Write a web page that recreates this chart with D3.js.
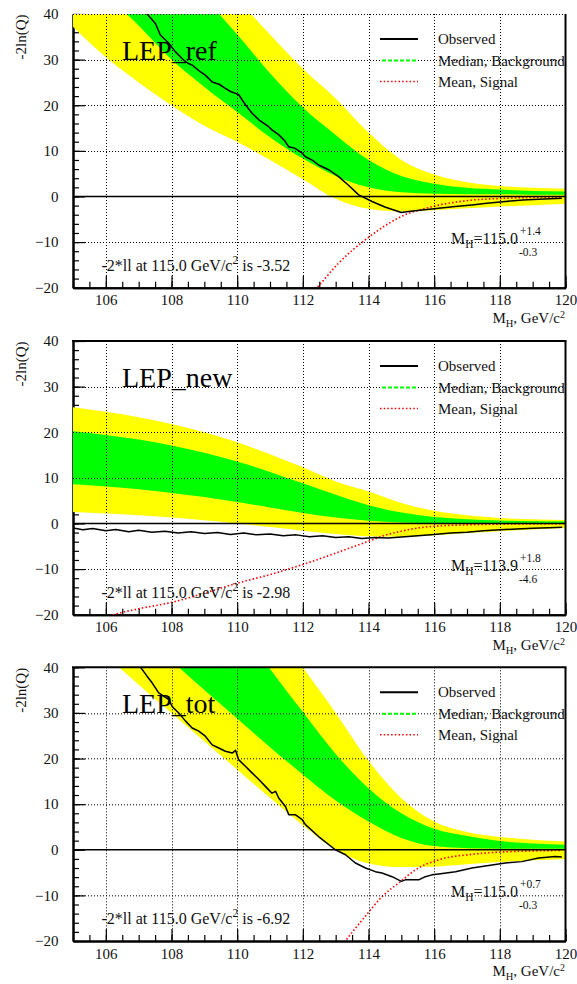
<!DOCTYPE html>
<html><head><meta charset="utf-8">
<script src="https://cdn.jsdelivr.net/npm/d3@7"></script>
<style>
body{margin:0;background:#fff;}
svg{display:block;}
svg text{font-family:"Liberation Serif","Times New Roman",serif;}
</style></head><body>
<svg id="chart" width="577" height="984" font-family="Liberation Serif"></svg>
<script>
// Higgs mass points (GeV/c^2) at which the expected bands are tabulated
const massGrid = [105,106,107,108,109,110,111,112,113,114,115,116,117,118,119,120];

// LEP_ref : expected -2ln(Q) for background only (median, 1 and 2 sigma edges)
const refYellowLo = [37.2,30.5,25,20,15.5,12.0,8.0,3.8,-0.5,-2.7,-3.3,-3.0,-2.6,-2.2,-1.9,-1.6];
const refGreenLo  = [50,44,37.5,30,24,18.5,13,8.3,4.5,2.0,0.9,0.6,0.5,0.5,0.4,0.4];
const refMedian   = [60,53,46,39,32,25.5,19.5,13.5,8.5,4.6,2.4,1.6,1.2,1.0,0.8,0.75];
const refGreenHi  = [72,65,58,50.5,43.5,35.5,27,19.5,13.5,8.0,4.5,2.8,1.9,1.5,1.2,1.1];
const refYellowHi = [80,73,66,58,51,43.3,35.5,28,21.5,14,8.0,4.8,3.1,2.3,1.9,1.7];
const refObserved = [[107.1,41.5],[107.26,40.0],[107.51,37.9],[107.66,35.4],[107.92,33.6],[108.12,31.7],[108.37,29.9],[108.5,29.2],[108.63,28.8],[108.85,27.5],[109.03,26.6],[109.24,25.1],[109.45,24.6],[109.64,23.7],[109.8,23.0],[109.95,22.6],[110.05,22.3],[110.25,20.1],[110.46,18.2],[110.66,16.8],[110.96,15.3],[111.06,14.6],[111.27,13.5],[111.45,12.2],[111.57,10.9],[111.75,10.6],[111.98,9.5],[112.08,8.7],[112.3,7.9],[112.48,6.9],[112.8,5.8],[113.09,4.35],[113.4,2.4],[113.7,0.35],[114.11,-1.1],[114.5,-2.3],[115.0,-3.52],[115.22,-3.3],[115.63,-2.95],[116.14,-2.6],[116.64,-2.2],[117.15,-1.85],[117.6,-1.5],[118.17,-1.1],[118.7,-0.8],[119.18,-0.6],[119.89,-0.4]];
const refSignal = [[112.3,-21],[112.43,-20],[113.09,-14.6],[113.9,-9.5],[114.62,-5.9],[115.12,-4.0],[115.63,-2.8],[116.14,-1.9],[117.15,-0.8],[118.17,-0.4],[119.89,-0.1]];

// LEP_new
const newYellowLo = [2.5,2.2,1.8,1.3,0.7,0.0,-0.8,-1.6,-2.3,-2.8,-2.9,-2.6,-2.1,-1.7,-1.3,-1.0];
const newGreenLo  = [8.6,8.1,7.5,6.7,5.8,4.7,3.5,2.3,1.3,0.6,0.2,0.05,0.0,0.0,0.0,0.05];
const newMedian   = [14.4,13.8,13.0,11.9,10.7,9.2,7.4,5.6,3.8,2.3,1.3,0.7,0.45,0.3,0.25,0.2];
const newGreenHi  = [20.2,19.4,18.4,17.1,15.5,13.6,11.3,8.8,6.3,4.0,2.4,1.4,0.9,0.65,0.5,0.45];
const newYellowHi = [25.5,24.5,23.3,21.8,20,17.8,15.2,12.3,9.2,7.0,4.5,2.8,1.8,1.2,0.9,0.75];
const newObserved = [[105,-1.0],[105.3,-1.4],[105.6,-1.1],[106.0,-1.6],[106.3,-1.3],[106.7,-1.8],[107.0,-1.5],[107.4,-1.9],[107.8,-1.7],[108.2,-2.1],[108.6,-1.8],[109.0,-2.2],[109.4,-2.0],[109.8,-2.4],[110.2,-2.1],[110.6,-2.5],[111.0,-2.3],[111.4,-2.7],[111.8,-2.5],[112.2,-2.9],[112.6,-2.7],[113.0,-3.1],[113.4,-2.9],[113.8,-3.3],[114.2,-3.1],[114.6,-3.2],[115.0,-2.98],[115.5,-2.7],[116.0,-2.4],[116.5,-2.1],[117.0,-1.9],[117.5,-1.6],[118.0,-1.4],[118.5,-1.2],[119.0,-1.05],[119.5,-0.95],[119.9,-0.85]];
const newSignal = [[106.0,-20.5],[106.23,-20],[107,-18.7],[108,-17.3],[109,-15.3],[110,-13.1],[111,-11.2],[112,-9.0],[113,-6.5],[114,-3.9],[114.5,-2.6],[115,-1.7],[115.5,-1.0],[116,-0.6],[117,-0.3],[118,-0.15],[119,-0.1],[120,-0.05]];

// LEP_tot
const totYellowLo = [49,42.5,36.2,30.0,23.8,17.6,11.4,5.4,0.0,-3.0,-3.8,-3.7,-3.2,-2.7,-2.3,-2.0];
const totGreenLo  = [60,54,47.5,41.4,35,28.8,22.5,16.5,10.8,6.2,2.6,0.8,0.35,0.25,0.2,0.2];
const totMedian   = [72,66,60,53.5,47,39,31,23.4,16,10,5.5,2.8,1.7,1.1,0.8,0.65];
const totGreenHi  = [84,78,72,65.5,59,49.5,39.6,30.2,21,13.5,8.0,4.6,3.0,1.9,1.4,1.1];
const totYellowHi = [95,90,84,78,70,61,50.5,40,30,19.5,11.3,6.2,3.9,2.8,2.2,1.8];
const totObserved = [[107.0,41.0],[107.06,40.0],[107.26,38.0],[107.41,36.6],[107.61,34.4],[107.92,32.9],[108.02,31.4],[108.22,30.0],[108.43,28.2],[108.63,26.7],[108.83,26.0],[109.03,24.9],[109.24,23.0],[109.44,22.3],[109.64,21.6],[109.85,21.2],[109.95,21.8],[110.05,19.7],[110.25,18.3],[110.46,16.8],[110.66,15.4],[110.86,13.9],[111.06,12.4],[111.17,12.8],[111.27,11.3],[111.47,9.5],[111.57,7.7],[111.77,7.7],[111.98,6.6],[112.08,5.5],[112.48,2.9],[112.99,0.0],[113.3,-1.1],[113.6,-2.9],[113.91,-4.0],[114.21,-4.8],[114.41,-5.1],[114.72,-5.9],[115.0,-6.92],[115.12,-6.6],[115.53,-6.6],[115.73,-5.9],[115.93,-5.5],[116.14,-5.3],[116.65,-4.8],[117.15,-4.0],[117.66,-3.45],[118.17,-2.9],[118.67,-2.6],[119.18,-1.8],[119.69,-1.5],[119.89,-1.6]];
const totSignal = [[113.2,-21],[113.3,-20],[113.9,-14.6],[114.41,-10.3],[114.97,-7.0],[115.43,-4.4],[116.14,-2.2],[117.15,-1.0],[118.17,-0.45],[119.89,-0.15]];

// axis ticks
const xMajorTicks = [106,108,110,112,114,116,118,120];
const xGridTicks = [106,108,110,112,114,116,118];
const yMajorTicks = [-20,-10,0,10,20,30,40];
const yGridTicks = [-10,10,20,30];
const legendLabels = ["Observed","Median, Background","Mean, Signal"];

const panels = [
  {top:14, title:"LEP_ref", bands:[refYellowLo,refGreenLo,refMedian,refGreenHi,refYellowHi], obs:refObserved, sig:refSignal, ll:"-3.52", mh:"115.0", up:"+1.4", dn:"-0.3", solidTop:false},
  {top:341, title:"LEP_new", bands:[newYellowLo,newGreenLo,newMedian,newGreenHi,newYellowHi], obs:newObserved, sig:newSignal, ll:"-2.98", mh:"113.9", up:"+1.8", dn:"-4.6", solidTop:true},
  {top:667.3, title:"LEP_tot", bands:[totYellowLo,totGreenLo,totMedian,totGreenHi,totYellowHi], obs:totObserved, sig:totSignal, ll:"-6.92", mh:"115.0", up:"+0.7", dn:"-0.3", solidTop:true}
];

const FONT = "Liberation Serif";
const svg = d3.select("#chart");
const X0 = 73, X1 = 565.5, PH = 273.7;
const x = d3.scaleLinear().domain([105,120]).range([X0,X1]);
const y = d3.scaleLinear().domain([-20,40]).range([PH,0]);
const YELLOW = "#ffff00", GREEN = "#00ff00", RED = "#ff0000";

function label(sel, px, py, size){
  return sel.append("text").attr("x",px).attr("y",py).attr("font-family",FONT).attr("font-size",size).attr("fill","#111");
}

panels.forEach((p,i)=>{
  const g = svg.append("g").attr("transform",`translate(0,${p.top})`);
  const clipId = "plotclip"+i;
  g.append("clipPath").attr("id",clipId).append("rect")
    .attr("x",X0).attr("y",0).attr("width",X1-X0).attr("height",PH);

  // axes (drawn first, bands paint over them)
  const xAxis = g.append("g").attr("transform",`translate(0,${PH})`)
    .call(d3.axisBottom(x).tickValues(xMajorTicks).tickSize(-12).tickSizeOuter(0).tickPadding(7).tickFormat(d3.format("d")));
  const xMinor = g.append("g").attr("transform",`translate(0,${PH})`)
    .call(d3.axisBottom(x).tickValues(d3.range(105,120.01,0.5)).tickSize(-6).tickSizeOuter(0).tickFormat(""));
  const yAxis = g.append("g").attr("transform",`translate(${X0},0)`)
    .call(d3.axisLeft(y).tickValues(yMajorTicks).tickSize(-12).tickSizeOuter(0).tickPadding(14.5).tickFormat(d3.format("d")));
  const yMinor = g.append("g").attr("transform",`translate(${X0},0)`)
    .call(d3.axisLeft(y).tickValues(d3.range(-20,40.01,2)).tickSize(-6).tickSizeOuter(0).tickFormat(""));
  [xAxis,xMinor,yAxis,yMinor].forEach(a=>{
    a.attr("font-family",FONT).attr("font-size",15);
    a.select(".domain").attr("stroke","#000").attr("stroke-width",2);
    a.selectAll(".tick line").attr("stroke","#000").attr("stroke-width",1.2);
    a.selectAll("text").attr("font-family",FONT).attr("font-size",15).attr("fill","#111");
  });

  // expected bands
  const rows = massGrid.map((m,k)=>({m, y2l:p.bands[0][k], y1l:p.bands[1][k], med:p.bands[2][k], y1h:p.bands[3][k], y2h:p.bands[4][k]}));
  const plot = g.append("g").attr("clip-path",`url(#${clipId})`);
  const band = (lo,hi)=>d3.area().x(d=>x(d.m)).y0(d=>y(d[lo])).y1(d=>y(d[hi])).curve(d3.curveMonotoneX);
  plot.append("path").datum(rows).attr("d",band("y2l","y2h")).attr("fill",YELLOW);
  plot.append("path").datum(rows).attr("d",band("y1l","y1h")).attr("fill",GREEN);

  // dotted grid
  const grid = g.append("g").attr("stroke","#000").attr("stroke-width",1).attr("stroke-dasharray","1,2");
  xGridTicks.forEach(t=>grid.append("line").attr("x1",Math.round(x(t))+0.5).attr("x2",Math.round(x(t))+0.5).attr("y1",0).attr("y2",PH));
  const hLines = p.solidTop ? yGridTicks : yGridTicks.concat([40]);
  hLines.forEach(t=>grid.append("line").attr("x1",X0).attr("x2",X1).attr("y1",Math.round(y(t))+0.5).attr("y2",Math.round(y(t))+0.5));

  // zero line
  g.append("line").attr("x1",X0).attr("x2",X1).attr("y1",y(0)).attr("y2",y(0)).attr("stroke","#000").attr("stroke-width",1.6);

  // median background, signal mean, observed
  plot.append("path").datum(rows)
    .attr("d",d3.line().x(d=>x(d.m)).y(d=>y(d.med)).curve(d3.curveMonotoneX))
    .attr("fill","none").attr("stroke",GREEN).attr("stroke-width",2).attr("stroke-dasharray","4,2");
  plot.append("path").datum(p.sig)
    .attr("d",d3.line().x(d=>x(d[0])).y(d=>y(d[1])).curve(d3.curveMonotoneX))
    .attr("fill","none").attr("stroke",RED).attr("stroke-width",1.6).attr("stroke-dasharray","1.5,2.2");
  plot.append("path").datum(p.obs)
    .attr("d",d3.line().x(d=>x(d[0])).y(d=>y(d[1])))
    .attr("fill","none").attr("stroke","#000").attr("stroke-width",1.5).attr("stroke-linejoin","round");

  // frame
  g.append("line").attr("x1",X1).attr("x2",X1).attr("y1",0).attr("y2",PH+1).attr("stroke","#000").attr("stroke-width",2);
  if (p.solidTop) g.append("line").attr("x1",X0-1).attr("x2",X1+1).attr("y1",0).attr("y2",0).attr("stroke","#000").attr("stroke-width",2);

  // axis titles
  g.append("text").attr("transform",`translate(26,23) rotate(-90)`).attr("text-anchor","middle")
    .attr("font-family",FONT).attr("font-size",15).attr("fill","#111").text("-2ln(Q)");
  const xt = label(g, 565, PH+35.5, 15).attr("text-anchor","end");
  xt.append("tspan").text("M");
  xt.append("tspan").attr("dy",4).attr("font-size",10.5).text("H");
  xt.append("tspan").attr("dy",-4).text(", GeV/c");
  xt.append("tspan").attr("dy",-5).attr("font-size",10).text("2");

  // panel title
  label(g, 122, 46, 28).attr("fill","#000").text(p.title);

  // legend
  const lg = g.append("g");
  const rowsY = [25,46.5,67.5];
  lg.append("line").attr("x1",380).attr("x2",418).attr("y1",rowsY[0]).attr("y2",rowsY[0]).attr("stroke","#000").attr("stroke-width",2);
  lg.append("line").attr("x1",382).attr("x2",418).attr("y1",rowsY[1]).attr("y2",rowsY[1]).attr("stroke",GREEN).attr("stroke-width",2).attr("stroke-dasharray","4,2");
  lg.append("line").attr("x1",380).attr("x2",418).attr("y1",rowsY[2]).attr("y2",rowsY[2]).attr("stroke",RED).attr("stroke-width",1.6).attr("stroke-dasharray","1.5,2.2");
  legendLabels.forEach((t,k)=>label(lg, 438, rowsY[k]+5, 15).text(t));

  // fitted mass
  const mt = label(g, 451, 230, 16);
  mt.append("tspan").text("M");
  mt.append("tspan").attr("dy",4).attr("font-size",11.5).text("H");
  mt.append("tspan").attr("dy",-4).text("=" + p.mh);
  label(g, 520, 221, 11.5).text(p.up);
  label(g, 519, 241.5, 11.5).text(p.dn);

  // log-likelihood at 115 GeV
  const lt = label(g, 101.5, 257, 16);
  lt.append("tspan").text("-2*ll at 115.0 GeV/c");
  lt.append("tspan").attr("dy",-7).attr("font-size",11.5).text("2");
  lt.append("tspan").attr("dy",7).text(" is " + p.ll);
});
</script>
</body></html>
